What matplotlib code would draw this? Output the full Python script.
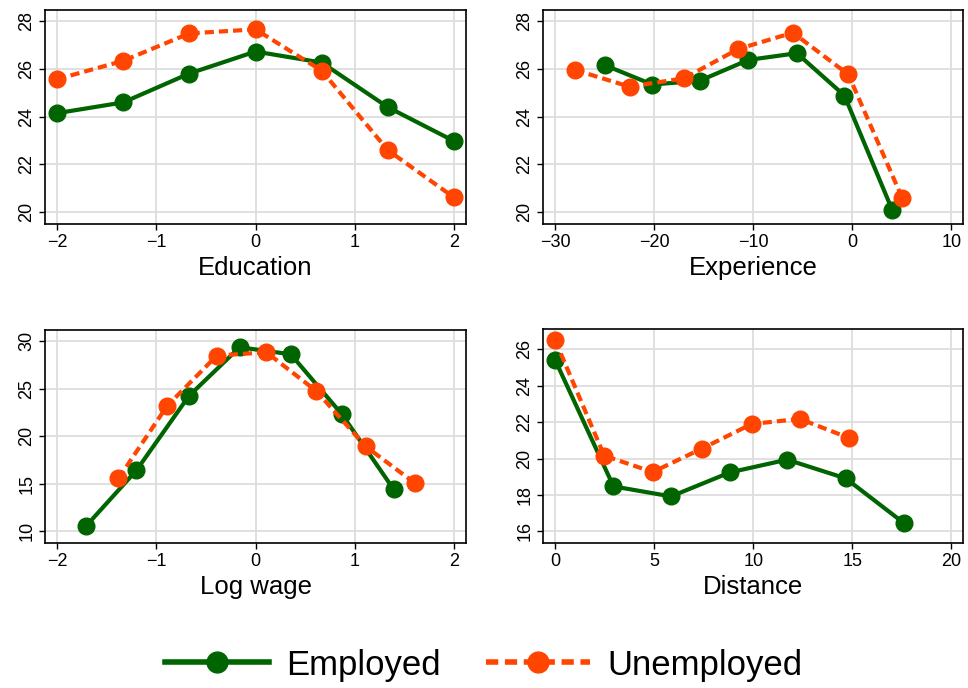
import numpy as np
import matplotlib
matplotlib.use("Agg")
import matplotlib.pyplot as plt
from matplotlib.lines import Line2D

plt.rcParams["font.family"] = ["Liberation Sans", "DejaVu Sans"]

GREEN = "#006400"
ORANGE = "#FF4500"

# Education
edu_x = [-2, -1.333, -0.667, 0, 0.667, 1.333, 2]
edu_emp = [24.14, 24.59, 25.80, 26.72, 26.26, 24.39, 22.97]
edu_unemp = [25.56, 26.33, 27.48, 27.65, 25.92, 22.59, 20.61]

# Experience
exp_x_emp = [-25.0, -20.2, -15.4, -10.5, -5.6, -0.8, 4.05]
exp_emp = [26.15, 25.34, 25.50, 26.37, 26.65, 24.88, 20.07]
exp_x_unemp = [-28.0, -22.5, -17.0, -11.5, -6.0, -0.4, 5.06]
exp_unemp = [25.95, 25.25, 25.60, 26.83, 27.51, 25.76, 20.57]

# Log wage
wage_x_emp = [-1.71, -1.20, -0.67, -0.16, 0.355, 0.87, 1.39]
wage_emp = [10.52, 16.40, 24.23, 29.34, 28.60, 22.30, 14.44]
wage_x_unemp = [-1.38, -0.89, -0.39, 0.11, 0.61, 1.11, 1.61]
wage_unemp = [15.56, 23.18, 28.46, 28.81, 24.76, 18.92, 15.03]

# Distance
dist_x_emp = [0, 2.94, 5.85, 8.82, 11.71, 14.67, 17.6]
dist_emp = [25.40, 18.47, 17.92, 19.24, 19.94, 18.91, 16.46]
dist_x_unemp = [0, 2.47, 4.92, 7.41, 9.92, 12.35, 14.84]
dist_unemp = [26.49, 20.16, 19.26, 20.55, 21.90, 22.18, 21.13]

panels = [
    dict(label="Education", xe=edu_x, ye=edu_emp, xu=edu_x, yu=edu_unemp,
         xlim=(-2.12, 2.12), ylim=(19.5, 28.46),
         xticks=[-2, -1, 0, 1, 2], yticks=[20, 22, 24, 26, 28],
         rect=[45, 10, 466, 224]),
    dict(label="Experience", xe=exp_x_emp, ye=exp_emp, xu=exp_x_unemp, yu=exp_unemp,
         xlim=(-31.24, 11.18), ylim=(19.5, 28.46),
         xticks=[-30, -20, -10, 0, 10], yticks=[20, 22, 24, 26, 28],
         rect=[543, 10, 963, 224]),
    dict(label="Log wage", xe=wage_x_emp, ye=wage_emp, xu=wage_x_unemp, yu=wage_unemp,
         xlim=(-2.12, 2.12), ylim=(8.78, 31.15),
         xticks=[-2, -1, 0, 1, 2], yticks=[10, 15, 20, 25, 30],
         rect=[45, 330, 466, 543]),
    dict(label="Distance", xe=dist_x_emp, ye=dist_emp, xu=dist_x_unemp, yu=dist_unemp,
         xlim=(-0.62, 20.59), ylim=(15.36, 27.12),
         xticks=[0, 5, 10, 15, 20], yticks=[16, 18, 20, 22, 24, 26],
         rect=[543, 329, 963, 543]),
]

W, H = 968, 688
fig = plt.figure(figsize=(W / 100, H / 100), dpi=100)


def fmt(v):
    return str(v).replace("-", "\u2212")


for p in panels:
    x0, y0, x1, y1 = p["rect"]
    ax = fig.add_axes([x0 / W, 1 - y1 / H, (x1 - x0) / W, (y1 - y0) / H])
    ax.plot(p["xe"], p["ye"], color=GREEN, lw=3, marker="o", ms=12, zorder=3)
    ax.plot(p["xu"], p["yu"], color=ORANGE, lw=3, ls=(0, (2.2, 1.2)), marker="o",
            ms=12, zorder=4)
    ax.set_xlim(*p["xlim"]); ax.set_ylim(*p["ylim"])
    ax.set_xticks(p["xticks"]); ax.set_yticks(p["yticks"])
    ax.set_xticklabels([fmt(t) for t in p["xticks"]], fontsize=13)
    ax.set_yticklabels([fmt(t) for t in p["yticks"]], fontsize=13, rotation=90, va="center")
    ax.grid(True, color="#DDDDDD", lw=1.3)
    ax.set_axisbelow(True)
    ax.tick_params(length=4, width=1, pad=3)
    for s in ax.spines.values():
        s.set_linewidth(1.2)
    ax.set_xlabel(p["label"], fontsize=18.5, labelpad=4)

handles = [
    Line2D([], [], color=GREEN, lw=4, marker="o", ms=15),
    Line2D([], [], color=ORANGE, lw=4, ls=(0, (2.2, 1.2)), marker="o", ms=15),
]
fig.legend(handles, ["Employed", "Unemployed"], loc="center", bbox_to_anchor=(0.5, 1 - 665 / H),
           ncol=2, frameon=False, fontsize=25, handlelength=3.0, columnspacing=1.3,
           handletextpad=0.5)

fig.savefig("out.png", dpi=100)
